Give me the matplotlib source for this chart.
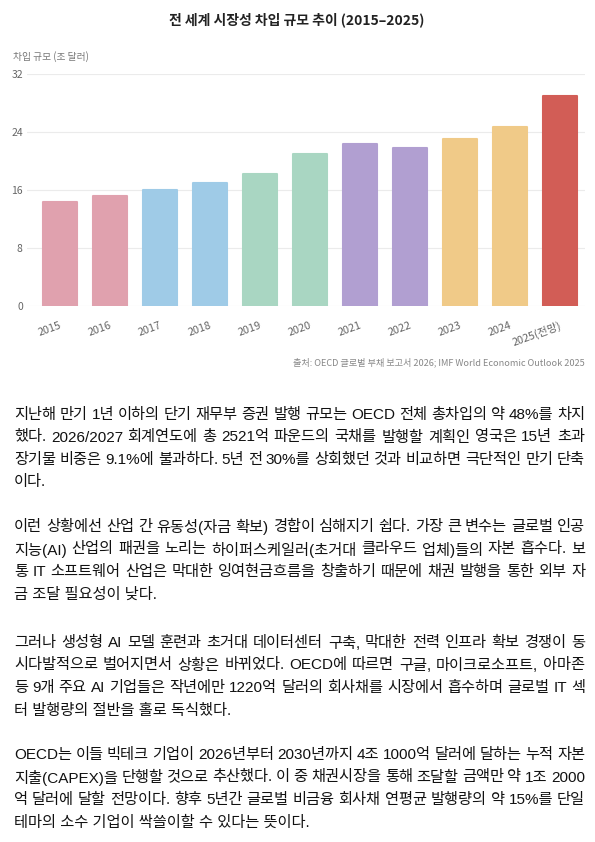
import matplotlib
matplotlib.use('Agg')
import matplotlib.pyplot as plt

plt.rcParams['font.family'] = ['Noto Sans CJK KR', 'DejaVu Sans']

# chart data
years = ['2015', '2016', '2017', '2018', '2019', '2020', '2021', '2022', '2023', '2024', '2025(전망)']
values = [14.4, 15.2, 16.0, 17.0, 18.2, 20.9, 22.4, 21.8, 23.1, 24.7, 28.9]
colors = ['#E0A1AE', '#E0A1AE', '#9FCBE7', '#9FCBE7', '#A9D6C2', '#A9D6C2',
          '#B19FD1', '#B19FD1', '#F0CA88', '#F0CA88', '#D25D56']
yticks = [0, 8, 16, 24, 32]

title = '전 세계 시장성 차입 규모 추이 (2015–2025)'
ylabel = '차입 규모 (조 달러)'
source = '출처: OECD 글로벌 부채 보고서 2026; IMF World Economic Outlook 2025'

# article text, one list per paragraph, one string per printed line
para1 = ['지난해 만기 1년 이하의 단기 재무부 증권 발행 규모는 OECD 전체 총차입의 약 48%를 차지',
         '했다. 2026/2027 회계연도에 총 2521억 파운드의 국채를 발행할 계획인 영국은 15년 초과',
         '장기물 비중은 9.1%에 불과하다. 5년 전 30%를 상회했던 것과 비교하면 극단적인 만기 단축',
         '이다.']
para2 = ['이런 상황에선 산업 간 유동성(자금 확보) 경합이 심해지기 쉽다. 가장 큰 변수는 글로벌 인공',
         '지능(AI) 산업의 패권을 노리는 하이퍼스케일러(초거대 클라우드 업체)들의 자본 흡수다. 보',
         '통 IT 소프트웨어 산업은 막대한 잉여현금흐름을 창출하기 때문에 채권 발행을 통한 외부 자',
         '금 조달 필요성이 낮다.']
para3 = ['그러나 생성형 AI 모델 훈련과 초거대 데이터센터 구축, 막대한 전력 인프라 확보 경쟁이 동',
         '시다발적으로 벌어지면서 상황은 바뀌었다. OECD에 따르면 구글, 마이크로소프트, 아마존',
         '등 9개 주요 AI 기업들은 작년에만 1220억 달러의 회사채를 시장에서 흡수하며 글로벌 IT 섹',
         '터 발행량의 절반을 홀로 독식했다.']
para4 = ['OECD는 이들 빅테크 기업이 2026년부터 2030년까지 4조 1000억 달러에 달하는 누적 자본',
         '지출(CAPEX)을 단행할 것으로 추산했다. 이 중 채권시장을 통해 조달할 금액만 약 1조 2000',
         '억 달러에 달할 전망이다. 향후 5년간 글로벌 비금융 회사채 연평균 발행량의 약 15%를 단일',
         '테마의 소수 기업이 싹쓸이할 수 있다는 뜻이다.']

W, H = 595, 842
fig = plt.figure(figsize=(W / 100, H / 100), dpi=100)

# chart area in pixels
left, right, top, bottom = 27, 585, 74, 306
ax = fig.add_axes([left / W, 1 - bottom / H, (right - left) / W, (bottom - top) / H])

x = list(range(len(years)))
ax.bar(x, values, width=0.68, color=colors, edgecolor=colors, linewidth=1.5,
       joinstyle='round', zorder=3)
ax.set_xlim(-0.65, 10.51)
ax.set_ylim(0, 32)
ax.set_yticks(yticks)
ax.set_xticks(x)
ax.set_xticklabels(years, rotation=20, ha='right', va='top', rotation_mode='anchor',
                   fontsize=7.8, color='#666666')
ax.tick_params(axis='y', labelsize=7.5, colors='#666666', length=0, pad=3)
ax.tick_params(axis='x', length=0, pad=10)
ax.grid(axis='y', color='#EBEBEB', linewidth=0.8, zorder=0)
for s in ax.spines.values():
    s.set_visible(False)

fig.text(297 / W, 1 - 20 / H, title, ha='center', va='center', fontsize=10,
         fontweight='bold', color='#222222')
fig.text(13 / W, 1 - 57 / H, ylabel, ha='left', va='center', fontsize=7, color='#777777')
fig.text(585 / W, 1 - 362 / H, source, ha='right', va='center', fontsize=6.6, color='#888888')

# paragraphs, justified like the article
renderer = fig.canvas.get_renderer()
text_left, text_right = 14, 585
fs = 11
body_font = ['Liberation Sans', 'Noto Sans CJK KR']
line_gap = 22.5


def word_width(w):
    t = fig.text(0, 0, w, fontsize=fs, family=body_font)
    bb = t.get_window_extent(renderer)
    t.remove()
    return bb.width


def draw_line(y, line, justify):
    if not justify:
        fig.text(text_left / W, 1 - y / H, line, ha='left', va='center',
                 fontsize=fs, family=body_font, color='#111111')
        return
    words = line.split(' ')
    widths = [word_width(w) for w in words]
    gap = (text_right - text_left - sum(widths)) / (len(words) - 1)
    xpos = text_left
    for w, wd in zip(words, widths):
        fig.text(xpos / W, 1 - y / H, w, ha='left', va='center',
                 fontsize=fs, family=body_font, color='#111111')
        xpos += wd + gap


for start, para in zip([415, 527, 643, 755], [para1, para2, para3, para4]):
    for i, line in enumerate(para):
        draw_line(start + i * line_gap, line, i < len(para) - 1)

fig.savefig('out.png', dpi=100)
